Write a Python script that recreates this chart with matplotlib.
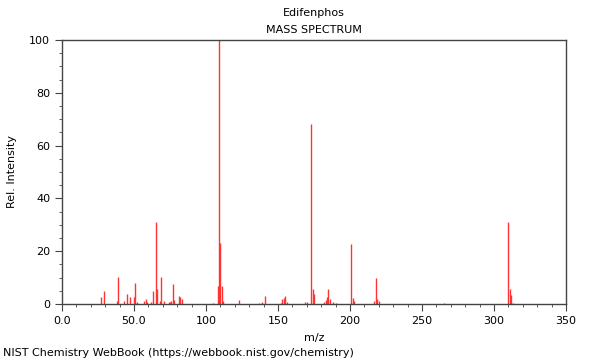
import matplotlib

matplotlib.use("Agg")

import matplotlib.pyplot as plt
from matplotlib.ticker import FuncFormatter, MultipleLocator


COMPOUND = "Edifenphos"

# m/z and relative intensity
MZ = [
	27, 29, 38, 39, 43, 45, 47, 50, 51, 52, 57, 58, 59, 62, 63, 65, 66, 68, 69,
	71, 74, 75, 76, 77, 78, 81, 82, 83,
	105, 108, 109, 110, 111, 112, 123,
	137, 139, 141, 152, 153, 154, 155, 156, 169, 170, 173, 174, 175,
	182, 183, 184, 185, 186, 188, 190,
	201, 202, 203, 217, 218, 219, 220,
	265, 310, 311, 312, 313,
]
INTENSITY = [
	2.8, 4.9, 1.0, 10.1, 1.0, 3.8, 2.5, 2.5, 8.1, 0.7, 1.2, 1.8, 0.8, 0.6, 4.9, 31.2, 5.5, 1.0, 10.1,
	1.0, 0.8, 0.8, 1.0, 7.6, 1.5, 3.0, 2.5, 2.0,
	0.3, 7.0, 100.0, 23.2, 6.8, 1.0, 1.5,
	0.5, 0.6, 2.9, 0.5, 2.0, 2.2, 3.2, 0.6, 0.6, 0.6, 68.0, 5.6, 3.7,
	0.6, 1.5, 2.5, 5.6, 2.0, 0.8, 0.5,
	22.7, 2.4, 1.0, 1.0, 9.8, 2.0, 1.0,
	0.5, 31.0, 5.6, 3.5, 0.5,
]


def mz_label(value, _pos):
	# short values keep one decimal, three-digit ones are shown as integers
	if value < 100:
		return f"{value:.1f}"
	return f"{value:.0f}"


def main() -> None:
	fig = plt.figure(figsize=(6, 3.6), dpi=100)
	ax = fig.add_axes([62 / 600, 1 - 304 / 360, 504 / 600, 264 / 360])

	ax.vlines(MZ, 0, INTENSITY, color="#ff3333", linewidth=1.0)

	ax.set_xlim(0, 350)
	ax.set_ylim(0, 100)
	ax.xaxis.set_major_locator(MultipleLocator(50))
	ax.xaxis.set_minor_locator(MultipleLocator(10))
	ax.yaxis.set_major_locator(MultipleLocator(20))
	ax.yaxis.set_minor_locator(MultipleLocator(5))
	ax.xaxis.set_major_formatter(FuncFormatter(mz_label))
	ax.tick_params(labelsize=8, color="#444444", length=5)
	ax.tick_params(which="minor", length=2.5, color="#444444")
	for spine in ax.spines.values():
		spine.set_color("#444444")
		spine.set_linewidth(1.0)

	ax.set_xlabel("m/z", fontsize=8, labelpad=5)
	ax.set_ylabel("Rel. Intensity", fontsize=8, labelpad=9)

	fig.text(0.523, 1 - 13 / 360, COMPOUND, ha="center", va="center", fontsize=8)
	fig.text(0.523, 1 - 30 / 360, "MASS SPECTRUM", ha="center", va="center", fontsize=8)
	fig.text(3 / 600, 1 - 353 / 360,
		"NIST Chemistry WebBook (https://webbook.nist.gov/chemistry)",
		ha="left", va="center", fontsize=8)

	fig.savefig("out.png", dpi=100)
	plt.close(fig)


if __name__ == "__main__":
	main()
